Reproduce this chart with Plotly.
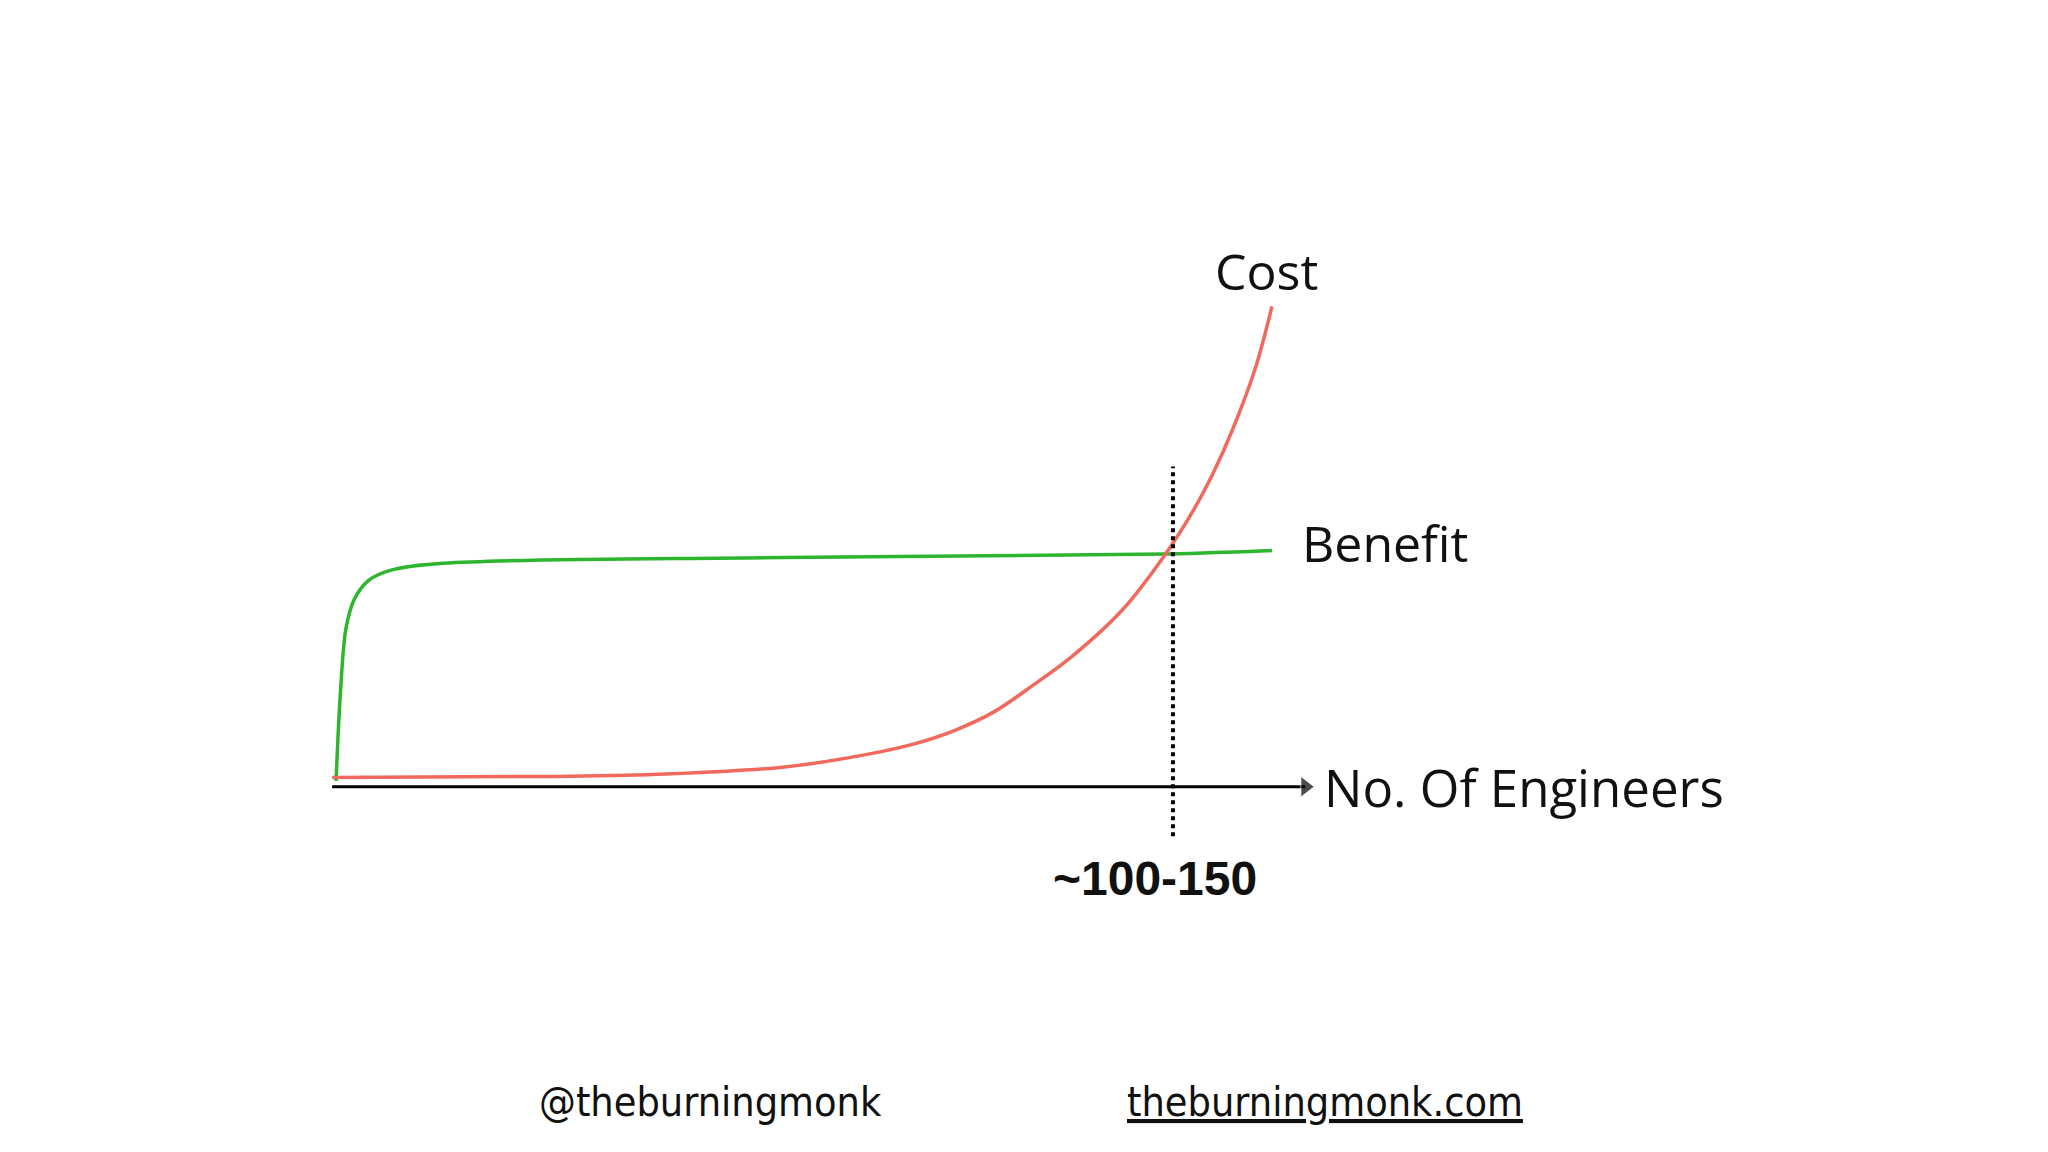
import plotly.graph_objects as go

# values (x = engineers, y = arbitrary level)
cost_x = [0, 40, 60, 81, 95, 104.5, 112, 119, 126, 133, 142, 150, 155, 158.5, 162, 166, 169]
cost_y = [32.5, 32.6, 32.8, 33.4, 34.4, 35.4, 36.6, 38.2, 40.5, 43.0, 47.0, 52.0, 55.8, 59.0, 62.8, 68.0, 73.4]
benefit_x = [0.7, 1.5, 2.5, 4, 6.5, 10.6, 20, 81, 150, 169]
benefit_y = [32.2, 40, 45.5, 48, 49.6, 50.5, 51.1, 51.6, 51.9, 52.2]
axis_x = [0, 175]
axis_y = [31.7, 31.7]
cross_x = [151.2, 151.2]
cross_y = [27.4, 59.5]

fig = go.Figure()
fig.add_trace(go.Scatter(x=axis_x, y=axis_y, mode="lines+markers",
                         line=dict(color="black", width=3),
                         marker=dict(symbol="triangle-right", size=[0, 18], color="black")))
fig.add_trace(go.Scatter(x=benefit_x, y=benefit_y, mode="lines",
                         line=dict(color="#2db52d", width=3.5, shape="spline", smoothing=1)))
fig.add_trace(go.Scatter(x=cost_x, y=cost_y, mode="lines",
                         line=dict(color="#f0695c", width=3.5, shape="spline", smoothing=1)))
fig.add_trace(go.Scatter(x=cross_x, y=cross_y, mode="lines",
                         line=dict(color="black", width=4, dash="dot")))

font = "Open Sans"
fig.add_annotation(x=168, y=76.5, text="Cost", showarrow=False,
                   font=dict(family=font, size=50, color="#111"))
fig.add_annotation(x=174, y=52.9, text="Benefit", showarrow=False, xanchor="left",
                   font=dict(family=font, size=50, color="#111"))
fig.add_annotation(x=178, y=31.7, text="No. Of Engineers", showarrow=False, xanchor="left",
                   font=dict(family=font, size=51, color="#111"))
fig.add_annotation(x=148, y=23.7, text="<b>~100-150</b>", showarrow=False,
                   font=dict(family="Liberation Sans", size=48, color="#111"))
fig.add_annotation(x=0.343, y=0.028, xref="paper", yref="paper", text="@theburningmonk",
                   showarrow=False, font=dict(family="DejaVu Sans Condensed", size=41, color="#111"))
fig.add_annotation(x=0.643, y=0.028, xref="paper", yref="paper", text="<u>theburningmonk.com</u>",
                   showarrow=False, font=dict(family="DejaVu Sans Condensed", size=41, color="#111"))

fig.update_layout(width=2048, height=1152, margin=dict(l=0, r=0, t=0, b=0),
                  plot_bgcolor="white", paper_bgcolor="white", showlegend=False)
fig.update_xaxes(range=[-58.3, 310], visible=False)
fig.update_yaxes(range=[-0.7, 99.3], visible=False)
fig.write_html("out.html")
